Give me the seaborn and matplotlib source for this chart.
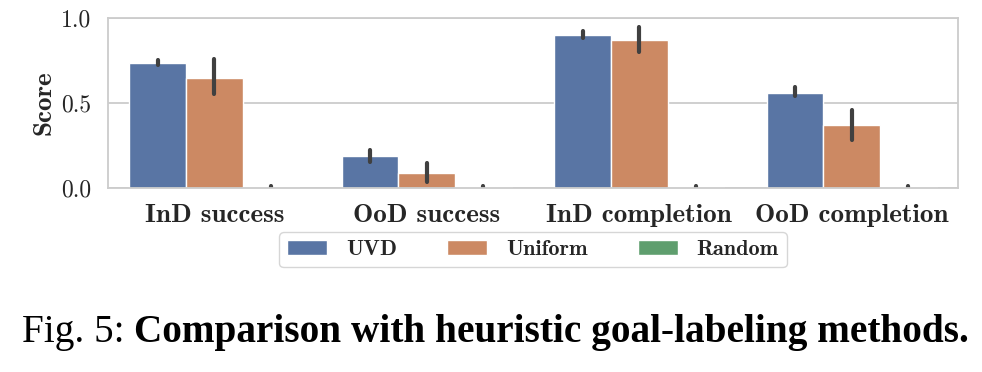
import numpy as np
import pandas as pd
import seaborn as sns
import matplotlib.pyplot as plt

# Scores: mean and lower/upper end of the error bar
categories = ["InD success", "OoD success", "InD completion", "OoD completion"]
methods = ["UVD", "Uniform", "Random"]

uvd_mean = [0.733, 0.184, 0.899, 0.560]
uvd_lo = [0.725, 0.154, 0.883, 0.540]
uvd_hi = [0.753, 0.223, 0.922, 0.595]

uniform_mean = [0.648, 0.085, 0.868, 0.368]
uniform_lo = [0.550, 0.036, 0.797, 0.283]
uniform_hi = [0.757, 0.145, 0.948, 0.460]

random_mean = [0.003, 0.003, 0.003, 0.003]
random_lo = [0.0, 0.0, 0.0, 0.0]
random_hi = [0.008, 0.008, 0.008, 0.008]

# long table: lo / mean / hi per bar -> median bar, min-max interval
rows = []
for name, m, lo, hi in [("UVD", uvd_mean, uvd_lo, uvd_hi),
                        ("Uniform", uniform_mean, uniform_lo, uniform_hi),
                        ("Random", random_mean, random_lo, random_hi)]:
    for i, cat in enumerate(categories):
        for v in (lo[i], m[i], hi[i]):
            rows.append({"Metric": cat, "Method": name, "Score": v})
df = pd.DataFrame(rows)

sns.set_theme(style="whitegrid")
plt.rcParams["font.family"] = ["cmr10", "DejaVu Serif"]
plt.rcParams["axes.unicode_minus"] = False
plt.rcParams["axes.formatter.use_mathtext"] = True

fig = plt.figure(figsize=(9.82, 3.72), dpi=100)
ax = fig.add_axes([0.110, 0.4954, 0.8656, 0.4562])

sns.barplot(data=df, x="Metric", y="Score", hue="Method", order=categories,
            hue_order=methods, estimator="median", errorbar=("pi", 100),
            edgecolor="white", linewidth=1,
            err_kws={"linewidth": 3, "color": ".25", "solid_capstyle": "round"},
            ax=ax)

ax.set_ylim(0, 1.0)
ax.set_yticks([0.0, 0.5, 1.0])
ax.set_yticklabels(["0.0", "0.5", "1.0"], fontsize=17, fontfamily="cmr10")
ax.set_xlabel("")
ax.set_ylabel("Score", fontsize=19.5, fontfamily="cmb10", labelpad=4)
ax.set_xticks(range(len(categories)))
ax.set_xticklabels(categories, fontsize=19.5, fontfamily="cmb10")
ax.tick_params(axis="x", pad=6)
ax.tick_params(axis="y", pad=6)
for s in ax.spines.values():
    s.set_color(".8")
    s.set_linewidth(1.3)
ax.grid(axis="y", color=".8", linewidth=1.3)

handles, labels = ax.get_legend_handles_labels()
ax.legend(handles, labels, loc="upper center", bbox_to_anchor=(0.5, -0.262),
          borderaxespad=0, ncol=3, frameon=True,
          prop={"family": "cmb10", "size": 16},
          handlelength=1.8, handleheight=0.65, columnspacing=2.25,
          handletextpad=0.85, borderpad=0.35, fancybox=True)

# caption
t1 = fig.text(0.022, 0.081, "Fig. 5: ", fontsize=28.3, fontfamily="Liberation Serif",
              color="black", ha="left", va="baseline")
fig.canvas.draw()
bb = t1.get_window_extent()
x2 = bb.x1 / fig.bbox.width
fig.text(x2, 0.081, "Comparison with heuristic goal-labeling methods.", fontsize=28.3,
         fontfamily="Liberation Serif", fontweight="bold", color="black",
         ha="left", va="baseline")

fig.savefig("out.png", dpi=100)
